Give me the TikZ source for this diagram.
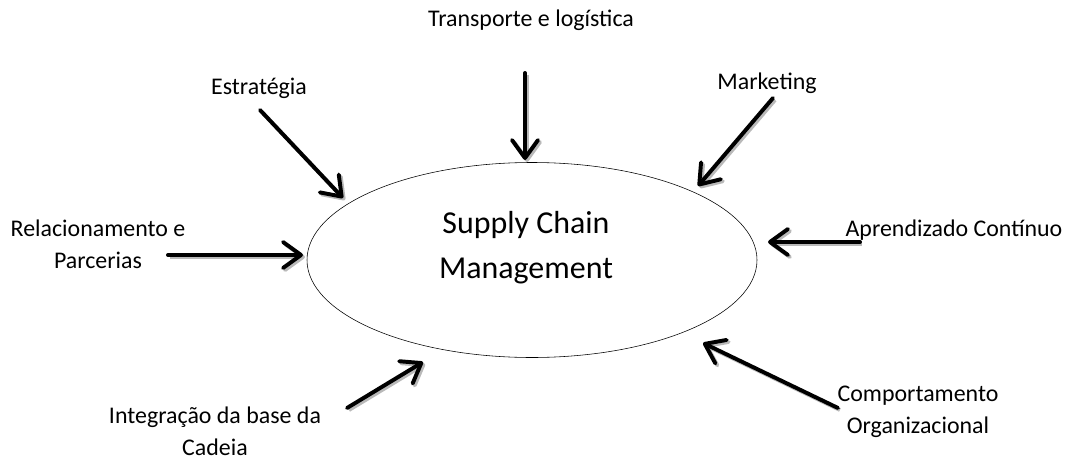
\documentclass[tikz,border=0pt]{standalone}
\usepackage{fontspec}
\setmainfont{Carlito}
\usepackage{tikz}
\usetikzlibrary{shapes, arrows, arrows.meta, positioning, calc}

\begin{document}
\begin{tikzpicture}[x=0.025cm, y=-0.025cm, >=stealth]
        \tikzset{
            label/.style={font=\fontsize{17}{23}\selectfont, align=center, inner sep=0pt},
            core/.style={ellipse, draw, thin, minimum width=450*0.025cm, minimum height=195*0.025cm},
            coretext/.style={align=center, inner sep=0pt, font=\fontsize{22.7}{32}\selectfont},
            push/.style={line width=2.8pt, -{Straight Barb[length=4.5mm, width=6.5mm, line cap=round, line join=round]}, line cap=round,
                preaction={draw=gray!55, line width=2.8pt, transform canvas={xshift=1.4pt, yshift=-1.4pt}}}
        }
        \useasboundingbox (0,0) rectangle (1066,461);

        \node[core] (scm) at (532,260) {};
        \node[coretext] (scm-text) at (526,248) {Supply Chain\\Management};

        \node[label] (transp) at (531,20) {Transporte e logística};
        \node[label] (estrat) at (259,88) {Estratégia};
        \node[label] (mkt) at (767,83) {Marketing};
        \node[label] (rel) at (98,244) {Relacionamento e\\Parcerias};
        \node[label] (aprend) at (954,230) {Aprendizado Contínuo};
        \node[label] (integ) at (215,431) {Integração da base da\\Cadeia};
        \node[label] (comport) at (918,412) {Comportamento\\Organizacional};

        % tails and heads
        \coordinate (transp-t) at (525,73);   \coordinate (transp-h) at (525,160);
        \coordinate (estrat-t) at (260,110);  \coordinate (estrat-h) at (343,198);
        \coordinate (mkt-t) at (773,98);      \coordinate (mkt-h) at (698,186);
        \coordinate (rel-t) at (168,255);     \coordinate (rel-h) at (303,255);
        \coordinate (aprend-t) at (860,242);  \coordinate (aprend-h) at (768,242);
        \coordinate (integ-t) at (347,408);   \coordinate (integ-h) at (423,362);
        \coordinate (comport-t) at (838,408); \coordinate (comport-h) at (703,343);

        \draw[push] (transp-t) -- (transp-h);
        \draw[push] (estrat-t) -- (estrat-h);
        \draw[push] (mkt-t) -- (mkt-h);
        \draw[push] (rel-t) -- (rel-h);
        \draw[push] (aprend-t) -- (aprend-h);
        \draw[push] (integ-t) -- (integ-h);
        \draw[push] (comport-t) -- (comport-h);

    \end{tikzpicture}
\end{document}
